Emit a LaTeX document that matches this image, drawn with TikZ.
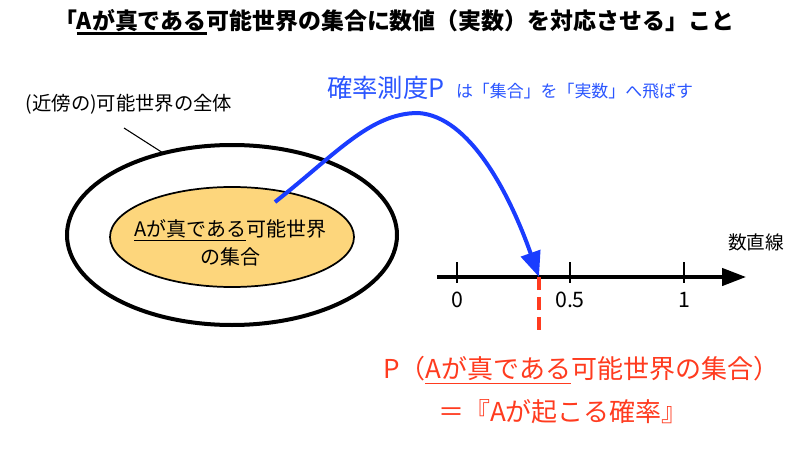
\documentclass[tikz,border=0pt]{standalone}
\usepackage{fontspec}
\setmainfont{Noto Sans CJK JP}
\usetikzlibrary{arrows.meta,shapes.geometric}
\definecolor{myblue}{HTML}{1A3CFF}
\definecolor{txtblue}{HTML}{2A55FF}
\definecolor{myred}{HTML}{FF3B1F}
\definecolor{myorange}{HTML}{FDD67C}
\newcommand\myul[3]{\setbox0\hbox{#1}\leavevmode\rlap{\rule[-#2]{\wd0}{#3}}\box0}
\begin{document}
\begin{tikzpicture}[x=0.75pt,y=-0.75pt,
  every node/.style={inner sep=0pt,outer sep=0pt},
  txt/.style={font=\fontsize{#1}{#1}\selectfont},
  tickmark/.style={line width=1pt}]
\useasboundingbox[fill=white] (0,0) rectangle (800,453);
% title
\node[font=\fontsize{17.2}{17.2}\selectfont\bfseries] (title) at (394,22) {「\myul{Aが真である}{4.5pt}{2.2pt}可能世界の集合に数値（実数）を対応させる」こと};
% label of outer ellipse
\node[txt=14.5pt] (allw) at (129,104) {(近傍の)可能世界の全体};
% ellipses
\node[draw,line width=3pt,ellipse,minimum width=247.5pt,minimum height=135pt] (outer) at (232,235) {};
\node[draw,line width=1.3pt,fill=myorange,ellipse,minimum width=183pt,minimum height=75pt] (inner) at (232,237) {};
\coordinate (lblend) at (124,128);
\draw[line width=0.8pt] (lblend) -- (outer.130);
\node[txt=15pt,align=center] (innertxt) at (230,243) {\myul{Aが真である}{3pt}{0.8pt}可能世界\\[4pt]の集合};
% number line
\coordinate (nlstart) at (437,277);
\coordinate (nlend) at (746,277);
\draw[line width=2.6pt,-{Triangle[length=18pt,width=13pt]}] (nlstart) -- (nlend);
\foreach \x/\n/\lab in {457/t0/0,570/t5/0.5,684/t1/1}{
  \coordinate (\n) at (\x,277);
  \draw[tickmark] (\x,262) -- (\x,283);
  \node[txt=16pt] at (\x,300) {\lab};
}
\node[txt=14pt] (nltitle) at (756,242) {数直線};
% red dashed
\coordinate (pval) at (539,277);
\coordinate (pdown) at (539,334);
\draw[myred,line width=2.3pt,dash pattern=on 10pt off 5pt] (pval) -- (pdown);
% blue arrow
\coordinate (bstart) at (275,202);
\coordinate (bpeak) at (418,113);
\draw[myblue,line width=3pt,-{Triangle[length=19pt,width=15pt]}] (bstart) .. controls (335,155) and (370,113) .. (bpeak) .. controls (470,116) and (510,195) .. (pval);
% blue text
\node[txt=19pt,text=txtblue,anchor=base west] (pm) at (327,98) {確率測度P};
\node[txt=12.7pt,text=txtblue,anchor=base west] (pm2) at (456,98) {は「集合」を「実数」へ飛ばす};
% red text
\node[txt=19.5pt,text=myred,anchor=base west] (res1) at (383,378) {P（\myul{Aが真である}{4.5pt}{1pt}可能世界の集合）};
\node[txt=19.5pt,text=myred,anchor=base west] (res2) at (438,421) {＝『Aが起こる確率』};
\end{tikzpicture}
\end{document}
